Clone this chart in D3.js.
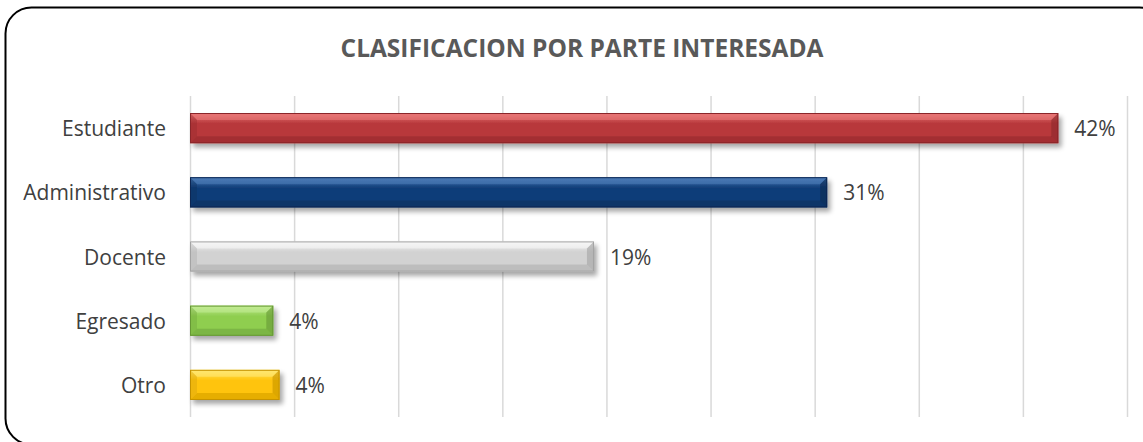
<!DOCTYPE html>
<meta charset="utf-8" />
<style>
  body { margin: 0; background: #fff; }
  svg { font-family: "Open Sans", sans-serif; }
  .grid line { stroke: #d9d9d9; stroke-width: 1.5; }
  .grid path { display: none; }
</style>
<body>
  <script src="https://d3js.org/d3.v7.min.js"></script>
  <script>
    // chart data
    const categories = ["Estudiante", "Administrativo", "Docente", "Egresado", "Otro"];
    const values = [41.7, 30.6, 19.4, 4.0, 4.3];
    const valueLabels = ["42%", "31%", "19%", "4%", "4%"];
    const xTicks = [0, 5, 10, 15, 20, 25, 30, 35, 40, 45];
    const title = "CLASIFICACION POR PARTE INTERESADA";

    // per-bar colours: [highlight, body, shade]
    const palette = [
      ["#ea7878", "#b8383b", "#8a2629"],
      ["#4d7cb8", "#113e79", "#0a2852"],
      ["#f6f6f6", "#d2d2d2", "#a3a3a3"],
      ["#c2eb92", "#8fce50", "#669836"],
      ["#ffe872", "#ffc40c", "#c79400"]
    ];

    const W = 1143, H = 442;
    const margin = { top: 96, right: 16, bottom: 25, left: 190 },
      width = 1127 - margin.left,
      height = H - margin.top - margin.bottom;

    const svg = d3.select("body").append("svg")
      .attr("width", W)
      .attr("height", H);

    // rounded frame, runs past the right edge
    svg.append("rect")
      .attr("x", 5.5).attr("y", 7.5)
      .attr("width", 1160).attr("height", 437)
      .attr("rx", 26)
      .attr("fill", "none")
      .attr("stroke", "#000")
      .attr("stroke-width", 2);

    svg.append("text")
      .attr("x", 582).attr("y", 47)
      .attr("text-anchor", "middle")
      .attr("dominant-baseline", "central")
      .attr("font-size", 24.5)
      .attr("font-weight", "bold")
      .attr("fill", "#595959")
      .text(title);

    const defs = svg.append("defs");
    const shadow = defs.append("filter").attr("id", "shadow")
      .attr("x", "-5%").attr("y", "-30%").attr("width", "115%").attr("height", "190%");
    shadow.append("feGaussianBlur").attr("in", "SourceAlpha").attr("stdDeviation", 2.5);
    shadow.append("feOffset").attr("dx", 3).attr("dy", 4).attr("result", "b");
    shadow.append("feComponentTransfer").append("feFuncA").attr("type", "linear").attr("slope", 0.35);
    const fm = shadow.append("feMerge");
    fm.append("feMergeNode");
    fm.append("feMergeNode").attr("in", "SourceGraphic");

    palette.forEach(function (c, i) {
      const g = defs.append("linearGradient").attr("id", "grad" + i)
        .attr("x1", 0).attr("y1", 0).attr("x2", 0).attr("y2", 1);
      g.append("stop").attr("offset", "0%").attr("stop-color", c[0]);
      g.append("stop").attr("offset", "35%").attr("stop-color", c[1]);
      g.append("stop").attr("offset", "100%").attr("stop-color", c[1]);
    });

    const chart = svg.append("g")
      .attr("transform", "translate(" + margin.left + "," + margin.top + ")");

    const x = d3.scaleLinear().domain([0, 45]).range([0, width]);
    const y = d3.scaleBand().domain(categories).range([0, height]).paddingInner(0.53).paddingOuter(0.265);

    chart.append("g")
      .attr("class", "grid")
      .call(d3.axisBottom(x).tickValues(xTicks).tickSize(height).tickFormat(""));

    const bevel = 7;
    const bars = chart.selectAll(".bar")
      .data(categories)
      .join("g")
      .attr("class", "bar")
      .attr("filter", "url(#shadow)");

    bars.each(function (d, i) {
      const g = d3.select(this);
      const x0 = x(0), x1 = x(values[i]);
      const y0 = y(d), y1 = y(d) + y.bandwidth();
      const c = palette[i];
      g.append("rect")
        .attr("x", x0).attr("y", y0)
        .attr("width", x1 - x0).attr("height", y1 - y0)
        .attr("fill", "url(#grad" + i + ")");
      // top bevel
      g.append("path")
        .attr("d", `M${x0},${y0}L${x1},${y0}L${x1 - bevel},${y0 + bevel}L${x0 + bevel},${y0 + bevel}Z`)
        .attr("fill", c[0]).attr("opacity", 0.6);
      // bottom bevel
      g.append("path")
        .attr("d", `M${x0},${y1}L${x1},${y1}L${x1 - bevel},${y1 - bevel}L${x0 + bevel},${y1 - bevel}Z`)
        .attr("fill", c[2]).attr("opacity", 0.45);
      // left bevel
      g.append("path")
        .attr("d", `M${x0},${y0}L${x0 + bevel},${y0 + bevel}L${x0 + bevel},${y1 - bevel}L${x0},${y1}Z`)
        .attr("fill", c[2]).attr("opacity", 0.3);
      // right bevel
      g.append("path")
        .attr("d", `M${x1},${y0}L${x1 - bevel},${y0 + bevel}L${x1 - bevel},${y1 - bevel}L${x1},${y1}Z`)
        .attr("fill", c[2]).attr("opacity", 0.6);
      g.append("rect")
        .attr("x", x0 + 0.5).attr("y", y0 + 0.5)
        .attr("width", x1 - x0 - 1).attr("height", y1 - y0 - 1)
        .attr("fill", "none").attr("stroke", c[2]).attr("stroke-width", 1);
    });

    // value labels
    chart.selectAll(".val")
      .data(categories)
      .join("text")
      .attr("class", "val")
      .attr("x", (d, i) => x(values[i]) + 16)
      .attr("y", d => y(d) + y.bandwidth() / 2)
      .attr("dominant-baseline", "central")
      .attr("font-size", 21)
      .attr("fill", "#404040")
      .text((d, i) => valueLabels[i]);

    // category labels
    chart.selectAll(".cat")
      .data(categories)
      .join("text")
      .attr("class", "cat")
      .attr("x", -24)
      .attr("y", d => y(d) + y.bandwidth() / 2)
      .attr("text-anchor", "end")
      .attr("dominant-baseline", "central")
      .attr("font-size", 21)
      .attr("fill", "#404040")
      .text(d => d);
  </script>
</body>
